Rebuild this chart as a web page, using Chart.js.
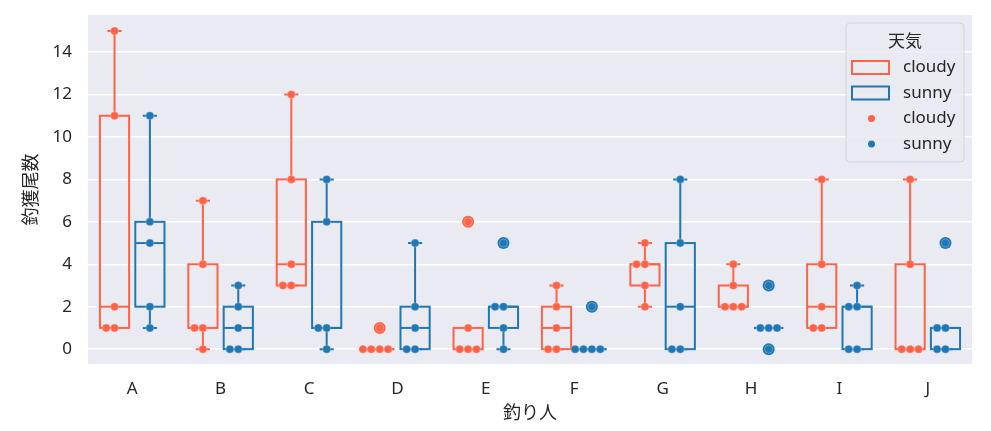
<!DOCTYPE html>
<html lang="ja">
<head>
  <meta charset="UTF-8">
  <title>釣獲尾数 boxplot</title>
  <script src="https://cdn.jsdelivr.net/npm/chart.js"></script>
  <style>
    html, body { margin: 0; padding: 0; background: #ffffff; }
    #wrap { width: 991px; height: 431px; }
  </style>
</head>
<body>
  <div id="wrap"><canvas id="chart" width="991" height="431"></canvas></div>
  <script>
    // categories and hue levels
    const anglers = ['A', 'B', 'C', 'D', 'E', 'F', 'G', 'H', 'I', 'J'];
    const weather = ['cloudy', 'sunny'];
    const yTicks = [0, 2, 4, 6, 8, 10, 12, 14];

    // catch counts per angler (5 trips each)
    const cloudyCatch = [
      [1, 1, 2, 11, 15], [0, 1, 1, 4, 7], [3, 3, 4, 8, 12], [0, 0, 0, 0, 1], [0, 0, 0, 1, 6],
      [0, 0, 1, 2, 3], [2, 3, 4, 4, 5], [2, 2, 2, 3, 4], [1, 1, 2, 4, 8], [0, 0, 0, 4, 8]
    ];
    const sunnyCatch = [
      [1, 2, 5, 6, 11], [0, 0, 1, 2, 3], [0, 1, 1, 6, 8], [0, 0, 1, 2, 5], [0, 1, 2, 2, 5],
      [0, 0, 0, 0, 2], [0, 0, 2, 5, 8], [0, 1, 1, 1, 3], [0, 0, 2, 2, 3], [0, 0, 1, 1, 5]
    ];

    const colors = { cloudy: '#ff6347', sunny: '#1f77b4' };
    const FONT = "'Noto Sans', 'Noto Sans CJK JP', sans-serif";
    const TEXT = '#262626';
    const dodge = [-0.2, 0.2];
    const boxHalf = 0.165;
    const capHalf = 0.08;
    const swarmStep = 0.095;

    // numpy-style percentile (linear)
    function pct(sorted, p) {
      const idx = (sorted.length - 1) * p;
      const lo = Math.floor(idx), hi = Math.ceil(idx);
      return sorted[lo] + (sorted[hi] - sorted[lo]) * (idx - lo);
    }

    function boxStats(obs) {
      const s = obs.slice().sort((a, b) => a - b);
      const q1 = pct(s, 0.25), med = pct(s, 0.5), q3 = pct(s, 0.75);
      const iqr = q3 - q1;
      const inside = s.filter(v => v >= q1 - 1.5 * iqr && v <= q3 + 1.5 * iqr);
      return {
        q1, med, q3,
        lo: Math.min(...inside), hi: Math.max(...inside),
        fliers: s.filter(v => v < q1 - 1.5 * iqr || v > q3 + 1.5 * iqr)
      };
    }

    // spread equal values sideways like a swarm
    function swarm(obs, center) {
      const counts = {}, seen = {};
      obs.forEach(v => counts[v] = (counts[v] || 0) + 1);
      return obs.map(v => {
        seen[v] = (seen[v] === undefined ? 0 : seen[v] + 1);
        return { x: center + (seen[v] - Math.floor(counts[v] / 2)) * swarmStep, y: v };
      });
    }

    const catchByHue = [cloudyCatch, sunnyCatch];

    const boxPlugin = {
      id: 'boxes',
      beforeDatasetsDraw(chart) {
        const { ctx, scales: { x, y } } = chart;
        ctx.save();
        ctx.lineWidth = 2;
        ctx.lineJoin = 'miter';
        catchByHue.forEach((groups, h) => {
          const col = colors[weather[h]];
          ctx.strokeStyle = col;
          ctx.fillStyle = col;
          groups.forEach((obs, i) => {
            const st = boxStats(obs);
            const c = i + dodge[h];
            const cx = x.getPixelForValue(c);
            const l = x.getPixelForValue(c - boxHalf), r = x.getPixelForValue(c + boxHalf);
            const cl = x.getPixelForValue(c - capHalf), cr = x.getPixelForValue(c + capHalf);
            const yq1 = y.getPixelForValue(st.q1), yq3 = y.getPixelForValue(st.q3);
            const ylo = y.getPixelForValue(st.lo), yhi = y.getPixelForValue(st.hi);
            const ymed = y.getPixelForValue(st.med);
            ctx.beginPath();
            // whiskers
            ctx.moveTo(cx, yq3); ctx.lineTo(cx, yhi);
            ctx.moveTo(cx, yq1); ctx.lineTo(cx, ylo);
            // caps
            ctx.moveTo(cl, yhi); ctx.lineTo(cr, yhi);
            ctx.moveTo(cl, ylo); ctx.lineTo(cr, ylo);
            ctx.stroke();
            ctx.strokeRect(l, yq3, r - l, yq1 - yq3);
            ctx.beginPath();
            ctx.moveTo(l, ymed); ctx.lineTo(r, ymed);
            ctx.stroke();
            // fliers
            st.fliers.forEach(v => {
              ctx.beginPath();
              ctx.arc(cx, y.getPixelForValue(v), 6, 0, Math.PI * 2);
              ctx.fill();
            });
          });
        });
        ctx.restore();
      }
    };

    const legendPlugin = {
      id: 'hueLegend',
      afterDraw(chart) {
        const { ctx, chartArea } = chart;
        const w = 118, h = 139;
        const left = chartArea.right - 8 - w, top = chartArea.top + 8;
        ctx.save();
        ctx.beginPath();
        ctx.roundRect(left, top, w, h, 4);
        ctx.fillStyle = 'rgba(234,234,242,0.85)';
        ctx.fill();
        ctx.strokeStyle = '#d4d4dc';
        ctx.lineWidth = 1;
        ctx.stroke();

        ctx.fillStyle = TEXT;
        ctx.font = '17px ' + FONT;
        ctx.textBaseline = 'middle';
        ctx.textAlign = 'center';
        ctx.fillText('天気', left + w / 2, top + 19);

        ctx.textAlign = 'left';
        const rows = [
          { kind: 'box', hue: 'cloudy' }, { kind: 'box', hue: 'sunny' },
          { kind: 'dot', hue: 'cloudy' }, { kind: 'dot', hue: 'sunny' }
        ];
        rows.forEach((row, k) => {
          const cy = top + 44.5 + k * 25.5;
          const col = colors[row.hue];
          if (row.kind === 'box') {
            ctx.strokeStyle = col;
            ctx.lineWidth = 2;
            ctx.strokeRect(left + 6, cy - 6.5, 37, 13);
          } else {
            ctx.fillStyle = col;
            ctx.beginPath();
            ctx.arc(left + 25.5, cy, 3.5, 0, Math.PI * 2);
            ctx.fill();
          }
          ctx.fillStyle = TEXT;
          ctx.fillText(row.hue, left + 57, cy);
        });
        ctx.restore();
      }
    };

    const bgPlugin = {
      id: 'plotBg',
      beforeDraw(chart) {
        const { ctx, chartArea: a } = chart;
        ctx.save();
        ctx.fillStyle = '#eaeaf2';
        ctx.fillRect(a.left, a.top, a.right - a.left, a.bottom - a.top);
        ctx.restore();
      }
    };

    const datasets = weather.map((hue, h) => ({
      type: 'scatter',
      label: hue,
      data: catchByHue[h].flatMap((obs, i) => swarm(obs, i + dodge[h])),
      backgroundColor: colors[hue],
      borderColor: 'rgba(255,255,255,0.45)',
      borderWidth: 0.6,
      pointRadius: 4,
      pointHoverRadius: 4
    }));

    new Chart(document.getElementById('chart'), {
      type: 'scatter',
      data: { datasets },
      options: {
        responsive: false,
        animation: false,
        events: [],
        layout: { padding: { left: 0, right: 19, top: 15, bottom: 0 } },
        plugins: { legend: { display: false }, tooltip: { enabled: false } },
        scales: {
          x: {
            type: 'linear', min: -0.5, max: 9.5,
            afterBuildTicks(scale) { scale.ticks = anglers.map((_, i) => ({ value: i })); },
            afterFit(scale) {
              scale.height = 67;
              scale.paddingLeft = 0; scale.paddingRight = 0;
              scale.paddingTop = 0; scale.paddingBottom = 0;
            },
            grid: { display: false },
            border: { display: false },
            ticks: {
              callback: v => anglers[v],
              color: TEXT, padding: 7,
              font: { family: FONT, size: 17 },
              maxRotation: 0, autoSkip: false
            },
            title: {
              display: true, text: '釣り人', color: TEXT,
              font: { family: FONT, size: 18 }, padding: { top: 0, bottom: 6 }
            }
          },
          y: {
            min: -0.7, max: 15.75,
            afterBuildTicks(scale) { scale.ticks = yTicks.map(v => ({ value: v })); },
            afterFit(scale) {
              scale.width = 88;
              scale.paddingTop = 0; scale.paddingBottom = 0;
              scale.paddingLeft = 0; scale.paddingRight = 0;
            },
            grid: { color: '#ffffff', lineWidth: 1.5, drawTicks: false },
            border: { display: false },
            ticks: {
              color: TEXT, padding: 16,
              font: { family: FONT, size: 17 }
            },
            title: {
              display: true, text: '釣獲尾数', color: TEXT,
              font: { family: FONT, size: 18 }, padding: { top: 21, bottom: 0 }
            }
          }
        }
      },
      plugins: [bgPlugin, boxPlugin, legendPlugin]
    });
  </script>
</body>
</html>
